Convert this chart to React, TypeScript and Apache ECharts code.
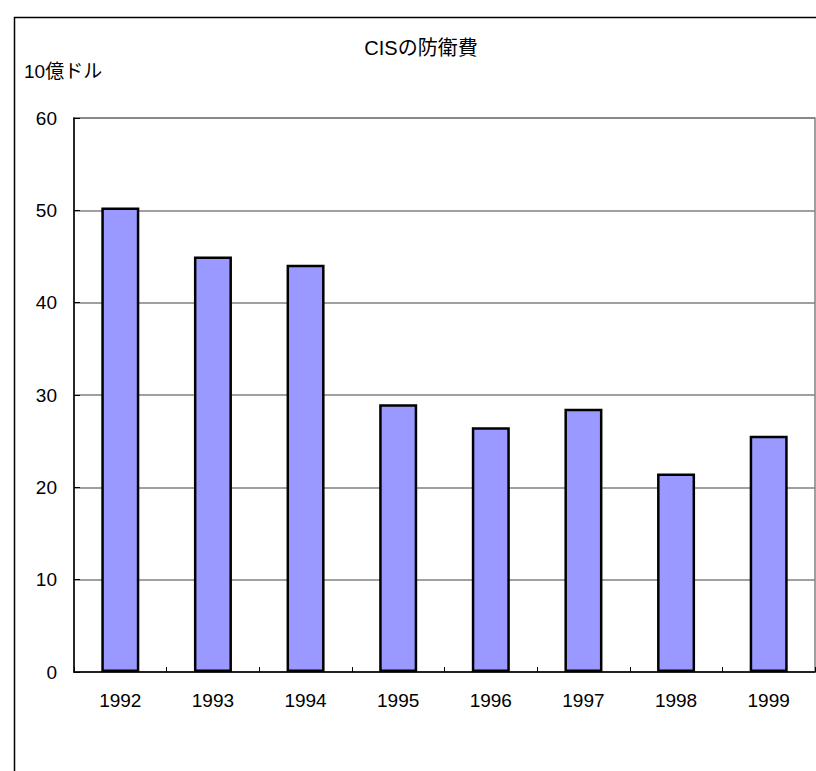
import React, { useEffect, useRef } from "react";
import * as echarts from "echarts";

const categories = ["1992", "1993", "1994", "1995", "1996", "1997", "1998", "1999"];
const values = [50.3, 45.0, 44.1, 29.0, 26.5, 28.5, 21.5, 25.6];
const yTicks = [0, 10, 20, 30, 40, 50, 60];
const titleText = "CISの防衛費";
const unitText = "10億ドル";

const FONT = "'Liberation Sans', Arial, 'Noto Sans CJK JP', sans-serif";

export default function App() {
  const ref = useRef<HTMLDivElement>(null);
  useEffect(() => {
    if (!ref.current) return;
    const chart = echarts.init(ref.current, null, { renderer: "svg" });
    chart.setOption({
      animation: false,
      backgroundColor: "#ffffff",
      textStyle: { fontFamily: FONT },
      graphic: [
        {
          type: "rect",
          shape: { x: 14.5, y: 17.5, width: 900, height: 900 },
          style: { fill: "none", stroke: "#000", lineWidth: 1.5 },
          silent: true,
        },
        {
          type: "text",
          x: 421,
          y: 48,
          style: {
            text: titleText,
            font: `20px ${FONT}`,
            fill: "#000",
            textAlign: "center",
            textVerticalAlign: "middle",
          },
        },
        {
          type: "text",
          x: 24,
          y: 71,
          style: {
            text: unitText,
            font: `19px ${FONT}`,
            fill: "#000",
            textAlign: "left",
            textVerticalAlign: "middle",
          },
        },
      ],
      grid: {
        left: 74,
        top: 118,
        width: 741,
        height: 554,
        show: true,
        borderColor: "#808080",
        borderWidth: 1.5,
        backgroundColor: "transparent",
      },
      xAxis: {
        type: "category",
        data: categories,
        axisLine: { show: true, lineStyle: { color: "#000", width: 1.5 } },
        axisTick: { show: true, inside: true, length: 5, alignWithLabel: false, lineStyle: { color: "#000" } },
        axisLabel: { color: "#000", fontSize: 19, fontFamily: FONT, margin: 19 },
      },
      yAxis: {
        type: "value",
        min: yTicks[0],
        max: yTicks[yTicks.length - 1],
        interval: 10,
        axisLine: { show: true, lineStyle: { color: "#000", width: 1.5 } },
        axisTick: { show: true, inside: true, length: 6, lineStyle: { color: "#000" } },
        axisLabel: { color: "#000", fontSize: 19, fontFamily: FONT, margin: 17 },
        splitLine: { show: true, lineStyle: { color: "#808080", width: 1.5 } },
      },
      series: [
        {
          type: "bar",
          data: values,
          barWidth: 38,
          itemStyle: { color: "#9999FF", borderColor: "#000", borderWidth: 2.5 },
        },
      ],
    });
    return () => chart.dispose();
  }, []);
  return (
    <div
      ref={ref}
      style={{ position: "fixed", left: 0, top: 0, width: 816, height: 771 }}
    />
  );
}
